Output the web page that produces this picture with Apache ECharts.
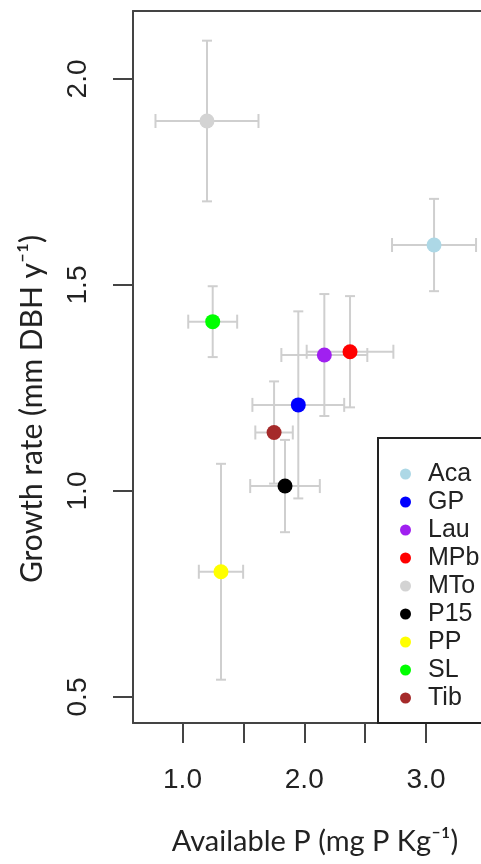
<!DOCTYPE html>
<html><head><meta charset="utf-8">
<script src="https://cdn.jsdelivr.net/npm/echarts@6/dist/echarts.min.js"></script>
<style>html,body{margin:0;padding:0;background:#fff}#c{width:481px;height:864px}</style>
</head><body><div id="c"></div>
<script>
const sites = ['Aca','GP','Lau','MPb','MTo','P15','PP','SL','Tib'];
const colors = ['#add8e6','#0000ff','#a020f0','#ff0000','#d3d3d3','#000000','#ffff00','#00ff00','#a52a2a'];
const availP = [3.066,1.951,2.165,2.376,1.201,1.842,1.316,1.248,1.752];
const availPErr = [0.345,0.377,0.353,0.356,0.423,0.286,0.182,0.201,0.154];
const growth = [1.597,1.209,1.330,1.338,1.898,1.012,0.804,1.411,1.142];
const growthErr = [0.112,0.227,0.148,0.135,0.195,0.112,0.262,0.086,0.124];
const xTicks = [1.0,1.5,2.0,2.5,3.0];
const xLabels = [1.0,2.0,3.0];
const yTicks = [0.5,1.0,1.5,2.0];

const chart = echarts.init(document.getElementById('c'), null, {renderer:'canvas'});
const errData = sites.map((s,i)=>[availP[i], growth[i], availPErr[i], growthErr[i]]);
const series = [{
  type:'custom', name:'err', silent:true, z:1,
  dimensions:['x','y','ex','ey'], encode:{x:0,y:1},
  data: errData,
  renderItem(params, api){
    const x=api.value(0), y=api.value(1), ex=api.value(2), ey=api.value(3);
    const l=api.coord([x-ex,y]), r=api.coord([x+ex,y]);
    const t=api.coord([x,y+ey]), b=api.coord([x,y-ey]);
    const st={stroke:'#cfcfcf', lineWidth:2};
    const ch=5, cv=7;
    const L=(x1,y1,x2,y2)=>({type:'line', shape:{x1,y1,x2,y2}, style:st});
    return {type:'group', children:[
      L(l[0],l[1],r[0],r[1]), L(t[0],t[1],b[0],b[1]),
      L(l[0],l[1]-cv,l[0],l[1]+cv), L(r[0],r[1]-cv,r[0],r[1]+cv),
      L(t[0]-ch,t[1],t[0]+ch,t[1]), L(b[0]-ch,b[1],b[0]+ch,b[1])
    ]};
  }
}];
sites.forEach((s,i)=>{
  series.push({type:'scatter', name:s, z:3, symbol:'circle', symbolSize:15,
    itemStyle:{color:colors[i], opacity:1}, data:[[availP[i], growth[i]]]});
});
const axisLineStyle = {color:'#444', width:2};
chart.setOption({
  animation:false,
  backgroundColor:'#fff',
  grid:{left:133, top:11, width:348, height:712, show:false},
  xAxis:[{type:'value', min:0.5934, max:3.4517,
    axisLine:{show:true, onZero:false, lineStyle:axisLineStyle}, splitLine:{show:false},
    axisTick:{show:true, length:20, inside:false, customValues:xTicks, lineStyle:axisLineStyle},
    axisLabel:{customValues:xLabels, margin:43, formatter:v=>v.toFixed(1), color:'#222', fontFamily:'Liberation Sans', fontSize:28}
  },{type:'value', position:'top', min:0.5934, max:3.4517,
    axisLine:{show:true, onZero:false, lineStyle:axisLineStyle}, splitLine:{show:false},
    axisTick:{show:false}, axisLabel:{show:false}
  }],
  yAxis:{type:'value', min:0.4369, max:2.1650,
    axisLine:{show:true, onZero:false, lineStyle:axisLineStyle}, splitLine:{show:false},
    axisTick:{show:true, length:20, inside:false, customValues:yTicks, lineStyle:axisLineStyle},
    axisLabel:{customValues:yTicks, margin:41, rotate:90, formatter:v=>v.toFixed(1), color:'#222', fontFamily:'Liberation Sans', fontSize:28}
  },
  legend:{orient:'vertical', left:395, top:455, z:10, itemGap:0, itemWidth:11, itemHeight:11, icon:'circle',
    data:sites, selectedMode:false,
    textStyle:{fontFamily:'Liberation Sans', fontSize:25, color:'#222', lineHeight:28, padding:[0,0,0,12]}},
  graphic:[
    {type:'rect', z:8, shape:{x:378, y:438, width:200, height:285}, style:{fill:'#fff', stroke:'#222', lineWidth:2}},
    {type:'text', z:8, x:32, y:409, rotation:Math.PI/2, style:{text:'Growth rate (mm DBH y\u207B\u00B9)', fontFamily:'Lato', fontSize:30, fill:'#222', textAlign:'center', textVerticalAlign:'middle'}},
    {type:'text', z:8, x:315, y:842, style:{text:'Available P (mg P Kg\u207B\u00B9)', fontFamily:'Lato', fontSize:29, fill:'#222', textAlign:'center', textVerticalAlign:'middle'}}
  ],
  series
});
</script></body></html>
